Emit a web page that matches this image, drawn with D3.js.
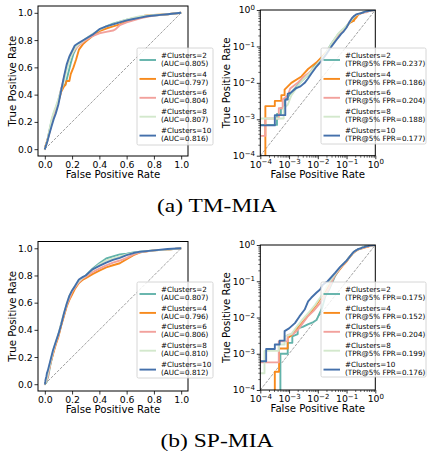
<!DOCTYPE html>
<html><head><meta charset="utf-8">
<script src="https://cdn.jsdelivr.net/npm/d3@7"></script>
<style>
body{margin:0;background:#fff;}
svg{display:block;}
text{fill:#000;}
</style></head><body>
<svg id="chart" width="427" height="455"></svg>
<script>
// ---------- data ----------
const clusterLabels = ["#Clusters=2","#Clusters=4","#Clusters=6","#Clusters=8","#Clusters=10"];
const seriesColors = ["#62b3aa","#f78a1d","#f2a19c","#d3e8cc","#4470ab"];
const tmAUC  = ["0.805","0.797","0.804","0.807","0.816"];
const tmTPR5 = ["0.237","0.186","0.204","0.188","0.177"];
const spAUC  = ["0.807","0.796","0.806","0.810","0.812"];
const spTPR5 = ["0.175","0.152","0.204","0.199","0.176"];
const linTicks = [0,0.2,0.4,0.6,0.8,1.0];
const logTicks = [1e-4,1e-3,1e-2,1e-1,1];
const captions = ["(a) TM-MIA","(b) SP-MIA"];

// ROC curves [fpr, tpr]
const tmK2 = [[0,0],[0,7e-4],[3.8e-4,7e-4],[3.8e-4,1.4e-3],[5.2e-4,1.4e-3],[5.2e-4,2e-3],[7e-4,2e-3],[7e-4,3.2e-3],[9e-4,4e-3],[1.2e-3,5.5e-3],[2e-3,8.5e-3],[3e-3,1.2e-2],[5e-3,1.8e-2],[8e-3,3e-2],[1.3e-2,4.6e-2],[2e-2,7e-2],[.03,.12],[.05,.21],[.065,.26],[.08,.30],[.10,.36],[.12,.44],[.13,.47],[.15,.47],[.17,.55],[.19,.63],[.21,.70],[.23,.74],[.25,.77],[.28,.79],[.30,.81],[.35,.84],[.40,.87],[.45,.90],[.50,.92],[.55,.935],[.60,.95],[.65,.96],[.70,.97],[.80,.98],[.90,.99],[1,1]];
const tmK4 = [[0,0],[1.5e-4,0],[1.5e-4,2.3e-3],[3.2e-4,2.3e-3],[3.2e-4,3.2e-3],[5.4e-4,3.2e-3],[5.4e-4,4.6e-3],[7e-4,4.6e-3],[7e-4,6.5e-3],[1.2e-3,1e-2],[2.7e-3,1.5e-2],[4.6e-3,2.4e-2],[8.9e-3,3.6e-2],[1.5e-2,5.5e-2],[2e-2,7e-2],[.03,.11],[.05,.19],[.065,.24],[.08,.29],[.10,.35],[.12,.42],[.14,.46],[.15,.47],[.16,.50],[.18,.50],[.19,.55],[.21,.60],[.23,.66],[.25,.73],[.28,.77],[.30,.79],[.35,.83],[.40,.865],[.45,.885],[.50,.90],[.55,.915],[.60,.935],[.65,.95],[.70,.965],[.73,.978],[.80,.985],[.90,.99],[1,1]];
const tmK6 = [[0,0],[0,3.5e-4],[1.5e-4,3.5e-4],[1.5e-4,1.05e-3],[4.4e-4,1.05e-3],[4.4e-4,2e-3],[6e-4,2e-3],[6e-4,3.5e-3],[9e-4,4.5e-3],[1.1e-3,7e-3],[2e-3,1e-2],[3e-3,1.4e-2],[5e-3,1.9e-2],[8e-3,2.7e-2],[1.3e-2,4.2e-2],[2e-2,6.5e-2],[.03,.11],[.05,.19],[.065,.24],[.08,.28],[.10,.35],[.12,.44],[.14,.52],[.16,.60],[.18,.66],[.20,.70],[.22,.73],[.25,.76],[.30,.80],[.35,.83],[.40,.85],[.45,.86],[.50,.87],[.52,.88],[.55,.91],[.60,.93],[.65,.945],[.70,.96],[.75,.97],[.80,.98],[.90,.99],[1,1]];
const tmK8 = [[0,0],[0,1.05e-3],[6.5e-4,1.05e-3],[6.5e-4,2e-3],[9e-4,2.5e-3],[1.2e-3,4.5e-3],[2e-3,8e-3],[3e-3,1.2e-2],[5e-3,1.8e-2],[8e-3,2.8e-2],[1.3e-2,4.3e-2],[2e-2,6.8e-2],[.03,.12],[.05,.22],[.065,.27],[.08,.31],[.10,.37],[.12,.43],[.14,.50],[.16,.58],[.18,.65],[.20,.70],[.22,.74],[.25,.77],[.30,.81],[.35,.845],[.40,.875],[.45,.90],[.50,.915],[.55,.935],[.60,.95],[.65,.965],[.70,.975],[.80,.985],[.90,.99],[1,1]];
const tmK10 = [[0,0],[0,6.8e-4],[3.2e-4,6.8e-4],[3.2e-4,1.3e-3],[7.4e-4,1.3e-3],[7.4e-4,3.5e-3],[9e-4,3.5e-3],[9e-4,5e-3],[1.2e-3,5.5e-3],[1.7e-3,7e-3],[2.5e-3,8e-3],[3.5e-3,1e-2],[4.5e-3,1.3e-2],[6e-3,1.8e-2],[9e-3,2.8e-2],[1.3e-2,3.9e-2],[2e-2,6.2e-2],[.03,.10],[.05,.17],[.065,.22],[.08,.26],[.10,.33],[.12,.43],[.14,.53],[.16,.62],[.18,.68],[.20,.72],[.22,.76],[.25,.78],[.30,.81],[.35,.84],[.40,.88],[.45,.90],[.50,.915],[.55,.93],[.60,.945],[.65,.955],[.70,.965],[.75,.975],[.80,.98],[.85,.985],[.90,.99],[.95,.995],[1,1]];

const spK2 = [[0,0],[5e-4,0],[5e-4,1e-3],[9e-4,1e-3],[9e-4,2e-3],[1.3e-3,2e-3],[1.3e-3,3e-3],[2e-3,3.5e-3],[2e-3,5e-3],[3e-3,5.5e-3],[4.5e-3,6.5e-3],[7e-3,7.5e-3],[9e-3,8.5e-3],[1.1e-2,1.2e-2],[1.4e-2,1.8e-2],[1.8e-2,3.7e-2],[2.5e-2,6e-2],[.04,.14],[.06,.23],[.08,.30],[.10,.36],[.12,.44],[.14,.51],[.16,.58],[.18,.63],[.20,.67],[.22,.71],[.25,.75],[.28,.78],[.30,.80],[.35,.85],[.40,.89],[.45,.925],[.50,.94],[.55,.955],[.60,.96],[.65,.97],[.70,.975],[.80,.985],[.90,.99],[1,1]];
const spK4 = [[0,0],[3.2e-4,0],[3.2e-4,3.2e-4],[4.5e-4,3.2e-4],[4.5e-4,1.4e-3],[9e-4,1.4e-3],[9e-4,2.7e-3],[1.2e-3,3.2e-3],[1.6e-3,4.5e-3],[2.5e-3,6.5e-3],[4e-3,1e-2],[6e-3,1.5e-2],[9e-3,2.3e-2],[1.3e-2,3.5e-2],[2e-2,6e-2],[.04,.15],[.06,.22],[.08,.29],[.10,.35],[.12,.43],[.14,.50],[.16,.57],[.18,.62],[.20,.66],[.22,.70],[.25,.745],[.28,.77],[.30,.78],[.35,.81],[.40,.835],[.45,.86],[.50,.875],[.55,.89],[.60,.92],[.65,.95],[.70,.97],[.80,.985],[.90,.99],[1,1]];
const spK6 = [[0,0],[0,5.8e-4],[4.4e-4,5.8e-4],[4.4e-4,2.2e-3],[9e-4,2.2e-3],[9e-4,3.3e-3],[1.4e-3,3.5e-3],[2e-3,4.5e-3],[3e-3,7e-3],[4.6e-3,1.1e-2],[7e-3,1.5e-2],[1.2e-2,2.5e-2],[1.6e-2,3.5e-2],[2.2e-2,5.5e-2],[.04,.15],[.06,.23],[.08,.30],[.10,.36],[.12,.44],[.14,.51],[.16,.58],[.18,.63],[.20,.68],[.22,.71],[.25,.75],[.28,.78],[.30,.79],[.35,.825],[.40,.85],[.45,.875],[.50,.895],[.55,.91],[.60,.93],[.65,.955],[.70,.97],[.80,.985],[.90,.99],[1,1]];
const spK8 = [[0,0],[0,2.9e-4],[1.4e-4,2.9e-4],[1.4e-4,1.2e-3],[4.4e-4,1.2e-3],[4.4e-4,1.8e-3],[7e-4,1.8e-3],[7e-4,3e-3],[1.2e-3,3.5e-3],[2e-3,6e-3],[3e-3,9e-3],[5e-3,1.4e-2],[8e-3,2.2e-2],[1.2e-2,3.5e-2],[1.6e-2,5e-2],[2.2e-2,8e-2],[.04,.16],[.06,.24],[.08,.31],[.10,.37],[.12,.45],[.14,.52],[.16,.59],[.18,.65],[.20,.69],[.22,.72],[.25,.76],[.28,.785],[.30,.80],[.35,.84],[.40,.88],[.45,.91],[.50,.925],[.55,.94],[.60,.955],[.65,.965],[.70,.975],[.80,.985],[.90,.99],[1,1]];
const spK10 = [[0,0],[0,6.2e-4],[1.6e-4,6.2e-4],[1.6e-4,1.35e-3],[3.2e-4,1.35e-3],[3.2e-4,1.8e-3],[4.7e-4,1.8e-3],[4.7e-4,2.3e-3],[7e-4,2.3e-3],[7e-4,4.2e-3],[1e-3,5e-3],[1.6e-3,7e-3],[2.3e-3,1.07e-2],[3.5e-3,1.66e-2],[4.6e-3,2.8e-2],[5.9e-3,3.5e-2],[8.9e-3,4.8e-2],[1.2e-2,5.9e-2],[1.5e-2,8e-2],[2.2e-2,.10],[.04,.17],[.06,.25],[.08,.31],[.10,.37],[.12,.44],[.14,.52],[.16,.59],[.18,.65],[.20,.69],[.22,.72],[.25,.77],[.28,.79],[.30,.80],[.35,.845],[.40,.87],[.45,.895],[.50,.915],[.55,.93],[.60,.95],[.65,.965],[.70,.975],[.80,.985],[.90,.995],[1,1]];

const tmSeries = [tmK2, tmK4, tmK6, tmK8, tmK10];
const spSeries = [spK2, spK4, spK6, spK8, spK10];

// ---------- drawing ----------
const SANS = "'DejaVu Sans', sans-serif";
const SERIF = "'Liberation Serif', 'Times New Roman', serif";
const svg = d3.select("#chart");
svg.append("rect").attr("width",427).attr("height",455).attr("fill","#fff");

const panels = [
  {kind:"lin", x0:38, y0:6, w:150, h:150, series:tmSeries, vals:tmAUC, key:"AUC=",
   ylabX:12.5, leg:{x:137, y:48, w:76, h:97}},
  {kind:"log", x0:260.3, y0:10, w:115, h:145.7, series:tmSeries, vals:tmTPR5, key:"TPR@5% FPR=",
   ylabX:226, leg:{x:321, y:48, w:105, h:96}},
  {kind:"lin", x0:38, y0:241.5, w:150, h:149.5, series:spSeries, vals:spAUC, key:"AUC=",
   ylabX:12.5, leg:{x:137, y:282, w:76, h:96}},
  {kind:"log", x0:260.3, y0:245, w:115, h:145, series:spSeries, vals:spTPR5, key:"TPR@5% FPR=",
   ylabX:226, leg:{x:321, y:282, w:105, h:95}}
];

function expLabel(sel){
  sel.each(function(d){
    const t = d3.select(this);
    const e = Math.round(Math.log10(d));
    t.text(null);
    t.append("tspan").text("10");
    t.append("tspan").attr("dy","-0.48em").style("font-size","7px")
      .text(String(e).replace("-","\u2212"));
  });
}

panels.forEach((p, pi) => {
  const g = svg.append("g");
  const isLog = p.kind === "log";
  const xs = isLog ? d3.scaleLog().domain([1e-4,1]).range([p.x0, p.x0+p.w])
                   : d3.scaleLinear().domain([-0.05,1.05]).range([p.x0, p.x0+p.w]);
  const ys = isLog ? d3.scaleLog().domain([1e-4,1]).range([p.y0+p.h, p.y0])
                   : d3.scaleLinear().domain([-0.05,1.05]).range([p.y0+p.h, p.y0]);
  const floor = 1e-8;
  const cx = v => isLog ? xs(Math.max(v, floor)) : xs(v);
  const cy = v => isLog ? ys(Math.max(v, floor)) : ys(v);

  const clipId = "clip" + pi;
  svg.append("clipPath").attr("id", clipId).append("rect")
    .attr("x", p.x0).attr("y", p.y0).attr("width", p.w).attr("height", p.h);

  const plot = g.append("g").attr("clip-path", `url(#${clipId})`);
  const diag = isLog ? [[1e-4,1e-4],[1,1]] : [[0,0],[1,1]];
  plot.append("path")
    .attr("d", d3.line().x(d=>cx(d[0])).y(d=>cy(d[1]))(diag))
    .attr("fill","none").attr("stroke","#8a8a8a").attr("stroke-width",0.8)
    .attr("stroke-dasharray","3,1.3");

  const line = d3.line().x(d=>cx(d[0])).y(d=>cy(d[1]));
  p.series.forEach((s, i) => {
    plot.append("path").attr("d", line(s))
      .attr("fill","none").attr("stroke", seriesColors[i])
      .attr("stroke-width",1.9).attr("stroke-linejoin","round");
  });

  const xAxis = d3.axisBottom(xs).tickSize(3.5).tickPadding(1.8);
  const yAxis = d3.axisLeft(ys).tickSize(3.5).tickPadding(1.8);
  if (isLog) {
    xAxis.tickValues(logTicks); yAxis.tickValues(logTicks);
  } else {
    xAxis.tickValues(linTicks).tickFormat(d3.format(".1f"));
    yAxis.tickValues(linTicks).tickFormat(d3.format(".1f"));
  }
  const gx = g.append("g").attr("transform",`translate(0,${p.y0+p.h})`).call(xAxis);
  const gy = g.append("g").attr("transform",`translate(${p.x0},0)`).call(yAxis);
  [gx, gy].forEach(a => {
    a.attr("font-family", null).attr("font-size", null);
    a.select(".domain").remove();
    a.selectAll(".tick line").attr("stroke","#000").attr("stroke-width",0.8);
    a.selectAll(".tick text").style("font-size","9.3px").style("font-family",SANS).attr("fill","#000");
  });
  if (isLog) {
    gx.selectAll(".tick text").call(expLabel);
    gy.selectAll(".tick text").call(expLabel);
    const minor = [];
    for (let e = -4; e < 0; e++) for (let m = 2; m <= 9; m++) minor.push(m * Math.pow(10, e));
    const mx = g.append("g").attr("transform",`translate(0,${p.y0+p.h})`)
      .call(d3.axisBottom(xs).tickValues(minor).tickSize(2).tickFormat(""));
    const my = g.append("g").attr("transform",`translate(${p.x0},0)`)
      .call(d3.axisLeft(ys).tickValues(minor).tickSize(2).tickFormat(""));
    [mx, my].forEach(a => {
      a.select(".domain").remove();
      a.selectAll(".tick line").attr("stroke","#000").attr("stroke-width",0.6);
    });
  }

  g.append("rect").attr("x",p.x0).attr("y",p.y0).attr("width",p.w).attr("height",p.h)
    .attr("fill","none").attr("stroke","#000").attr("stroke-width",1);

  g.append("text").attr("x", p.x0 + p.w/2).attr("y", p.y0 + p.h + 22)
    .attr("text-anchor","middle").style("font-family",SANS).style("font-size","10.2px")
    .text("False Positive Rate");
  g.append("text").attr("transform",`translate(${p.ylabX},${p.y0 + p.h/2}) rotate(-90)`)
    .attr("dy","0.35em").attr("text-anchor","middle").style("font-family",SANS).style("font-size","10.2px")
    .text("True Positive Rate");

  const L = p.leg;
  const lg = g.append("g");
  lg.append("rect").attr("x",L.x).attr("y",L.y).attr("width",L.w).attr("height",L.h)
    .attr("rx",1.5).attr("fill","#fff").attr("fill-opacity",0.8)
    .attr("stroke","#cccccc").attr("stroke-width",0.8);
  clusterLabels.forEach((lab, i) => {
    const hy = L.y + 12 + i * 18.9;
    lg.append("line").attr("x1",L.x+2.5).attr("x2",L.x+19).attr("y1",hy).attr("y2",hy)
      .attr("stroke",seriesColors[i]).attr("stroke-width",1.9);
    lg.append("text").attr("x",L.x+24).attr("y",hy-2.4)
      .style("font-family",SANS).style("font-size","7.2px").text(lab);
    lg.append("text").attr("x",L.x+24).attr("y",hy+5.6)
      .style("font-family",SANS).style("font-size","7.2px")
      .text("(" + p.key + p.vals[i] + ")");
  });
});

const capY = [212.3, 446.7];
const capW = [120, 113];
captions.forEach((c, i) => {
  svg.append("text").attr("x",217).attr("y",capY[i]).attr("text-anchor","middle")
    .style("font-family",SERIF).style("font-size","18.5px")
    .attr("textLength",capW[i]).attr("lengthAdjust","spacingAndGlyphs")
    .text(c);
});
</script>
</body></html>
